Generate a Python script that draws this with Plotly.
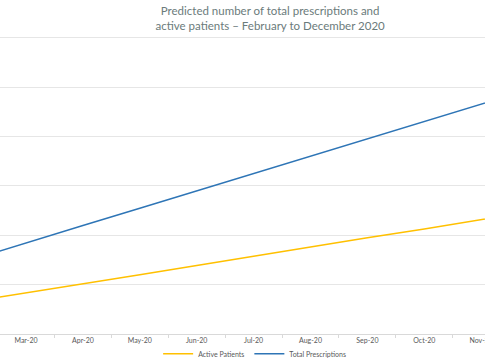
import plotly.graph_objects as go

months = ["Feb-20", "Mar-20", "Apr-20", "May-20", "Jun-20", "Jul-20",
          "Aug-20", "Sep-20", "Oct-20", "Nov-20", "Dec-20"]
active_patients = [650, 830, 1020, 1200, 1390, 1580, 1760, 1950, 2130, 2320, 2510]
total_prescriptions = [1490, 1850, 2200, 2550, 2900, 3250, 3610, 3960, 4310, 4660, 5010]

fig = go.Figure()
fig.add_trace(go.Scatter(x=months, y=active_patients, mode="lines",
                         name="Active Patients",
                         line=dict(color="#FFC000", width=1.5)))
fig.add_trace(go.Scatter(x=months, y=total_prescriptions, mode="lines",
                         name="Total Prescriptions",
                         line=dict(color="#2E75B6", width=1.5)))

fig.update_layout(
    width=485, height=360,
    margin=dict(l=0, r=0, t=33, b=26, autoexpand=False),
    paper_bgcolor="white", plot_bgcolor="white",
    title=dict(text="Predicted number of total prescriptions and<br>active patients – February to December 2020",
               x=0.557, xanchor="center", y=0.958, yanchor="top",
               font=dict(family="Lato, sans-serif", size=11.5, color="#6B7B7B")),
    xaxis=dict(type="category", range=[0.543, 9.067],
               showgrid=False, showline=True, linecolor="#D9D9D9",
               ticks="outside", tickson="boundaries", ticklen=3, tickcolor="#D9D9D9",
               tickangle=0,
               tickfont=dict(family="Lato, sans-serif", size=7, color="#595959"),
               fixedrange=True),
    yaxis=dict(range=[0, 6100], dtick=1000, showgrid=True, gridcolor="#E6E6E6",
               showticklabels=False, zeroline=False, fixedrange=True),
    legend=dict(orientation="h", x=0.525, xanchor="center", y=-0.066, yanchor="middle",
                bgcolor="rgba(0,0,0,0)",
                font=dict(family="Lato, sans-serif", size=7, color="#595959"),
                itemwidth=30, tracegroupgap=0),
    showlegend=True,
)

fig.write_html("out.html", config={"displayModeBar": False},
               post_script="document.body.style.margin='0';document.body.style.overflow='hidden';")
